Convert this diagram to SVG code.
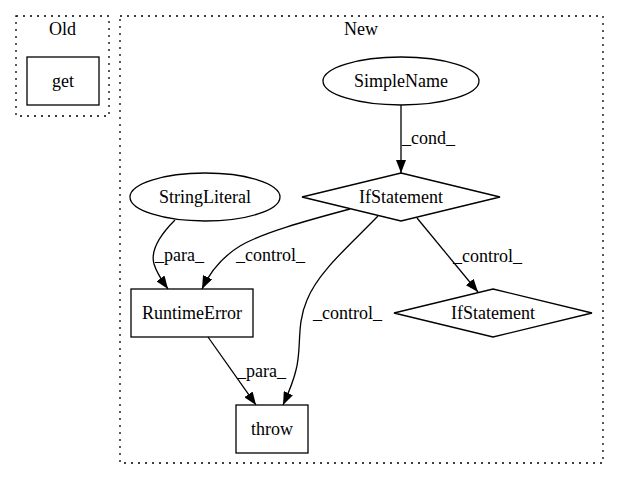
<svg xmlns="http://www.w3.org/2000/svg" width="619" height="480" viewBox="0 0 619 480">
<style>
text{font-family:"Liberation Serif","Times New Roman","DejaVu Serif",serif;font-size:18px;fill:#000}
.c{text-anchor:middle}
.cl{fill:none;stroke:#000;stroke-width:1.3;stroke-dasharray:2,5}
.n{fill:none;stroke:#000;stroke-width:1.3}
.e{fill:none;stroke:#000;stroke-width:1.3;marker-end:url(#ah)}
</style>
<defs>
<marker id="ah" viewBox="0 0 13 10" refX="13" refY="5" markerWidth="13" markerHeight="10" markerUnits="userSpaceOnUse" orient="auto">
<path d="M0,0 L13,5 L0,10 z" fill="#000"/>
</marker>
</defs>
<rect width="619" height="480" fill="#fff"/>
<g id="cluster_old">
<rect class="cl" x="16" y="16" width="93" height="100"/>
<text class="c" x="62.5" y="35" font-family="Liberation Serif, serif">Old</text>
</g>
<g id="cluster_new">
<rect class="cl" x="120" y="16" width="483" height="447"/>
<text class="c" x="361" y="35" font-family="Liberation Serif, serif">New</text>
</g>
<g id="node_get">
<rect class="n" x="27" y="57" width="72" height="48"/>
<text class="c" x="63" y="87" font-family="Liberation Serif, serif">get</text>
</g>
<g id="node_simplename">
<ellipse class="n" cx="401" cy="81" rx="78" ry="24"/>
<text class="c" x="401" y="87" font-family="Liberation Serif, serif">SimpleName</text>
</g>
<g id="node_if1">
<polygon class="n" points="401,173 500,197 401,221 302,197"/>
<text class="c" x="401" y="203" font-family="Liberation Serif, serif">IfStatement</text>
</g>
<g id="node_stringliteral">
<ellipse class="n" cx="205" cy="197" rx="75" ry="24"/>
<text class="c" x="205" y="203" font-family="Liberation Serif, serif">StringLiteral</text>
</g>
<g id="node_runtimeerror">
<rect class="n" x="131" y="289" width="122" height="48"/>
<text class="c" x="192" y="319" font-family="Liberation Serif, serif">RuntimeError</text>
</g>
<g id="node_if2">
<polygon class="n" points="493,289 592,313 493,337 394,313"/>
<text class="c" x="493" y="319" font-family="Liberation Serif, serif">IfStatement</text>
</g>
<g id="node_throw">
<rect class="n" x="236" y="405" width="72" height="48"/>
<text class="c" x="272" y="435" font-family="Liberation Serif, serif">throw</text>
</g>
<g id="edges">
<path class="e" d="M401,105 L401,173"/>
<text x="402" y="144" font-family="Liberation Serif, serif">_cond_</text>
<path class="e" d="M175,220 C160,235 150,250 154,264 C157,274 163,282 168,289"/>
<text x="155" y="261" font-family="Liberation Serif, serif">_para_</text>
<path class="e" d="M350,209 C305,221 262,233 240,246 C222,257 210,272 202,289"/>
<text x="236" y="261" font-family="Liberation Serif, serif">_control_</text>
<path class="e" d="M378,216 C350,245 318,272 307,300 C296,325 302,348 296,370 C293,383 288,394 283,405"/>
<text x="313" y="319" font-family="Liberation Serif, serif">_control_</text>
<path class="e" d="M417,218 L478,292"/>
<text x="453" y="262" font-family="Liberation Serif, serif">_control_</text>
<path class="e" d="M208,337 L256,405"/>
<text x="237" y="377" font-family="Liberation Serif, serif">_para_</text>
</g>
</svg>
